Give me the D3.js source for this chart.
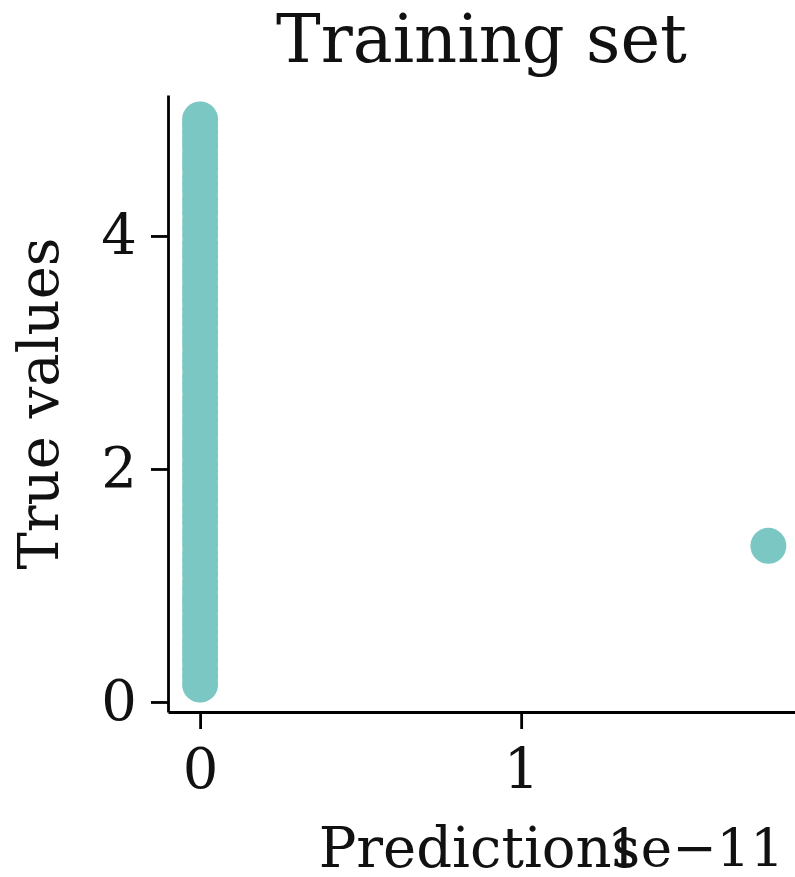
<!DOCTYPE html>
<html>
<head>
<meta charset="utf-8">
<script src="https://cdn.jsdelivr.net/npm/d3@7"></script>
<style>
  body { margin: 0; background: #fff; }
  text { font-family: "DejaVu Serif", serif; fill: #111; }
</style>
</head>
<body>
<div id="chart"></div>
<script>
// predictions are on the 1e-11 scale, values below are in those units
const trueValues = [0.15, 0.22, 0.28, 0.35, 0.41, 0.47, 0.53, 0.6, 0.66, 0.72,
  0.79, 0.85, 0.9, 0.97, 1.03, 1.1, 1.16, 1.22, 1.28, 1.35, 1.41, 1.47, 1.54,
  1.6, 1.66, 1.73, 1.79, 1.85, 1.92, 1.98, 2.04, 2.11, 2.17, 2.23, 2.3, 2.36,
  2.42, 2.49, 2.55, 2.61, 2.68, 2.74, 2.8, 2.87, 2.93, 2.99, 3.06, 3.12, 3.18,
  3.25, 3.31, 3.37, 3.44, 3.5, 3.56, 3.63, 3.69, 3.75, 3.82, 3.88, 3.94, 4.01,
  4.07, 4.13, 4.2, 4.26, 4.32, 4.39, 4.45, 4.51, 4.58, 4.64, 4.7, 4.77, 4.83,
  4.89, 4.95, 5.0];
const predictions = trueValues.map(() => 0);
const outlierTrue = [1.34];
const outlierPred = [1.77];
const xTicks = [0, 1];
const yTicks = [0, 2, 4];

const points = trueValues.map((t, i) => ({ pred: predictions[i], truth: t }))
    .concat(outlierTrue.map((t, i) => ({ pred: outlierPred[i], truth: t })));

const W = 795, H = 877;
const margin = { top: 95, right: 0, bottom: 165, left: 168 };
const width = W - margin.left - margin.right;
const height = H - margin.top - margin.bottom;

const svg = d3.select("#chart")
    .append("svg")
    .attr("width", W)
    .attr("height", H);

const g = svg.append("g")
    .attr("transform", `translate(${margin.left},${margin.top})`);

const x = d3.scaleLinear()
    .domain([-0.1, 1.853])
    .range([0, width]);

const y = d3.scaleLinear()
    .domain([-0.086, 5.21])
    .range([height, 0]);

// points first so spines sit on top
g.append("g")
    .selectAll("circle")
    .data(points)
    .enter()
    .append("circle")
    .attr("cx", d => x(d.pred))
    .attr("cy", d => y(d.truth))
    .attr("r", 18)
    .attr("fill", "#7bc7c3");

const xAxis = g.append("g")
    .attr("transform", `translate(0,${height})`)
    .call(d3.axisBottom(x).tickValues(xTicks).tickFormat(d3.format("d")).tickSize(17).tickPadding(19).tickSizeOuter(0));

const yAxis = g.append("g")
    .call(d3.axisLeft(y).tickValues(yTicks).tickFormat(d3.format("d")).tickSize(17).tickPadding(14).tickSizeOuter(0));

[xAxis, yAxis].forEach(a => {
    a.select(".domain").attr("stroke", "#000").attr("stroke-width", 2.8);
    a.selectAll(".tick line").attr("stroke", "#000").attr("stroke-width", 2.8);
    a.selectAll(".tick text")
        .style("font-family", "DejaVu Serif")
        .style("font-size", "56px")
        .attr("fill", "#111");
});

// title
svg.append("text")
    .attr("x", margin.left + width / 2)
    .attr("y", 62)
    .attr("text-anchor", "middle")
    .style("font-size", "67px")
    .text("Training set");

// axis labels
svg.append("text")
    .attr("x", margin.left + width / 2 - 2)
    .attr("y", 867)
    .attr("text-anchor", "middle")
    .style("font-size", "56px")
    .text("Predictions");

svg.append("text")
    .attr("transform", "rotate(-90)")
    .attr("x", -(margin.top + height / 2))
    .attr("y", 58)
    .attr("text-anchor", "middle")
    .style("font-size", "56px")
    .text("True values");

// offset text for the x axis
svg.append("text")
    .attr("x", 784)
    .attr("y", 866)
    .attr("text-anchor", "end")
    .style("font-size", "53px")
    .text("1e\u221211");
</script>
</body>
</html>
